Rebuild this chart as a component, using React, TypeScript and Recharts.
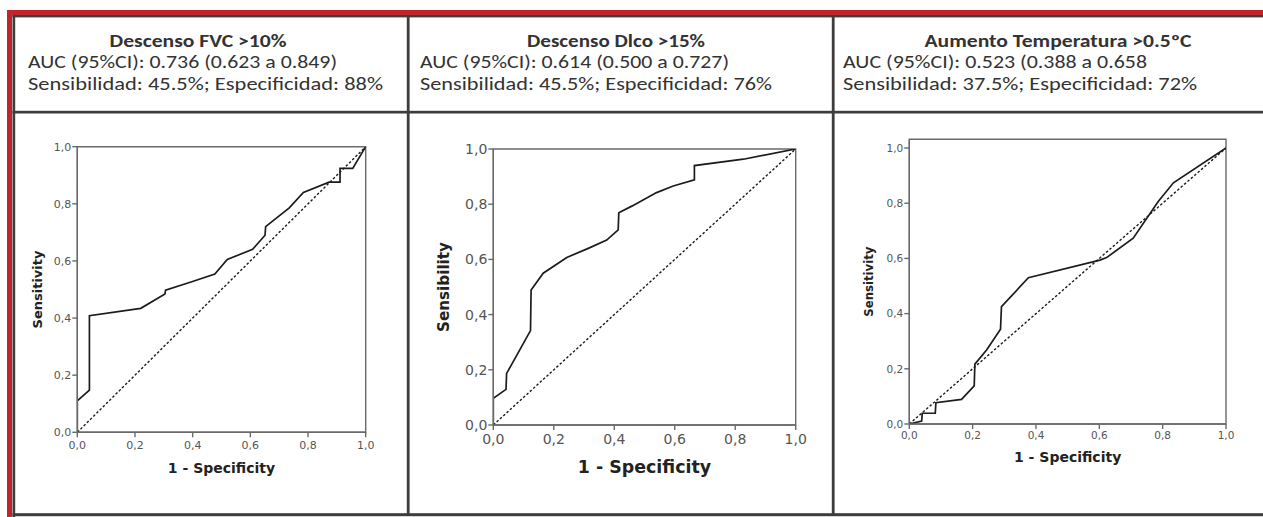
import React from 'react';
import { LineChart, Line, XAxis, YAxis, Label, ReferenceArea } from 'recharts';

// ROC values (1 - specificity, sensitivity)
const axisTicks = [0, 0.2, 0.4, 0.6, 0.8, 1];
const chanceFpr = [0, 1];
const chanceTpr = [0, 1];

const fvcFpr = [0, 0, 0.042, 0.042, 0.22, 0.304, 0.306, 0.397, 0.477, 0.52, 0.608, 0.651, 0.653, 0.735, 0.784, 0.873, 0.911, 0.911, 0.955, 1];
const fvcTpr = [0, 0.11, 0.148, 0.408, 0.434, 0.484, 0.498, 0.527, 0.554, 0.605, 0.641, 0.69, 0.72, 0.786, 0.84, 0.876, 0.876, 0.924, 0.924, 1];

const dlcoFpr = [0, 0, 0.042, 0.044, 0.123, 0.125, 0.165, 0.243, 0.314, 0.375, 0.413, 0.415, 0.458, 0.54, 0.595, 0.665, 0.665, 0.827, 1];
const dlcoTpr = [0, 0.097, 0.129, 0.187, 0.342, 0.489, 0.55, 0.607, 0.64, 0.67, 0.707, 0.769, 0.793, 0.842, 0.866, 0.888, 0.94, 0.963, 1];

const tempFpr = [0, 0.039, 0.041, 0.082, 0.084, 0.165, 0.205, 0.207, 0.244, 0.288, 0.291, 0.376, 0.602, 0.623, 0.707, 0.786, 0.834, 1];
const tempTpr = [0, 0.011, 0.039, 0.039, 0.077, 0.089, 0.138, 0.217, 0.268, 0.343, 0.425, 0.53, 0.594, 0.603, 0.673, 0.806, 0.874, 1];

const titles = ['Descenso FVC >10%', 'Descenso Dlco >15%', 'Aumento Temperatura >0.5ºC'];
const aucLines = [
  'AUC (95%CI): 0.736 (0.623 a 0.849)',
  'AUC (95%CI): 0.614 (0.500 a 0.727)',
  'AUC (95%CI): 0.523 (0.388 a 0.658',
];
const cutoffLines = [
  'Sensibilidad: 45.5%; Especificidad: 88%',
  'Sensibilidad: 45.5%; Especificidad: 76%',
  'Sensibilidad: 37.5%; Especificidad: 72%',
];
const yTitles = ['Sensitivity', 'Sensibility', 'Sensitivity'];
const xTitle = '1 - Specificity';

const zip = (xs: number[], ys: number[]) => xs.map((x, i) => ({ x, y: ys[i] }));
const chance = zip(chanceFpr, chanceTpr);
const curves = [zip(fvcFpr, fvcTpr), zip(dlcoFpr, dlcoTpr), zip(tempFpr, tempTpr)];

const fmt = (v: number) => v.toFixed(1).replace('.', ',');

// layout of each panel (page coords)
const panels = [
  { box: [16, 114, 390, 398], plot: [77.3, 146.7, 365.7, 432.3], yMax: 1, tick: 11, xm: 4, xt: 14, yt: 13, xtY: 468, ytX: 37, titleX: 198, textX: 28, w: [177, 309, 355] },
  { box: [411, 114, 420, 398], plot: [493.3, 149, 795.7, 425], yMax: 1, tick: 14, xm: 4, xt: 17.4, yt: 15.2, xtY: 467, ytX: 444, titleX: 616, textX: 420, w: [178, 309, 352] },
  { box: [836, 114, 427, 398], plot: [909.3, 139.3, 1226, 424], yMax: 1.0316, tick: 10.5, xm: 3, xt: 14, yt: 11.7, xtY: 456.7, ytX: 869, titleX: 1058, textX: 843, w: [267, 304, 354] },
];

const AXIS = '#6a6a6a';
const TICK = '#555';
const INK = '#1c1c1c';
const BORDER = '#3d3d3d';
const RED = '#c1252c';
const Y_W = 50;
const X_H = 50;

function RocPanel({ idx }: { idx: number }) {
  const p = panels[idx];
  const [bx, by, bw, bh] = p.box;
  const [L, T, R, B] = p.plot;
  const margin = {
    left: L - bx - Y_W,
    top: T - by,
    right: bx + bw - R,
    bottom: by + bh - B - X_H,
  };
  const tickStyle = { fontFamily: 'DejaVu Sans', fontSize: p.tick, fill: TICK };
  const titleFont = { fontFamily: 'DejaVu Sans', fontWeight: 700, fill: '#222' };

  return (
    <div style={{ position: 'absolute', left: bx, top: by, width: bw, height: bh }}>
      <LineChart width={bw} height={bh} margin={margin}>
        <XAxis
          type="number"
          dataKey="x"
          domain={[0, 1]}
          ticks={axisTicks}
          tickFormatter={fmt}
          tick={tickStyle}
          tickSize={5}
          tickMargin={p.xm}
          height={X_H}
          stroke={AXIS}
          strokeWidth={1.4}
          allowDataOverflow
        >
          <Label
            content={(lp: any) => {
              const vb = lp.viewBox;
              return (
                <text x={vb.x + vb.width / 2} y={p.xtY - by} textAnchor="middle" dominantBaseline="central" style={{ ...titleFont, fontSize: p.xt }}>
                  {xTitle}
                </text>
              );
            }}
          />
        </XAxis>
        <YAxis
          type="number"
          dataKey="y"
          domain={[0, p.yMax]}
          ticks={axisTicks}
          tickFormatter={fmt}
          tick={tickStyle}
          tickSize={5}
          tickMargin={1}
          width={Y_W}
          stroke={AXIS}
          strokeWidth={1.4}
          allowDataOverflow
        >
          <Label
            content={(lp: any) => {
              const vb = lp.viewBox;
              const cx = p.ytX - bx;
              const cy = vb.y + vb.height / 2;
              return (
                <text x={cx} y={cy} transform={`rotate(-90 ${cx} ${cy})`} textAnchor="middle" dominantBaseline="central" style={{ ...titleFont, fontSize: p.yt }}>
                  {yTitles[idx]}
                </text>
              );
            }}
          />
        </YAxis>
        {/* plot frame */}
        <ReferenceArea x1={0} x2={1} y1={0} y2={p.yMax} fill="none" stroke={AXIS} strokeWidth={1.4} ifOverflow="visible" />
        <Line data={chance} dataKey="y" type="linear" stroke={INK} strokeWidth={1.4} strokeDasharray="2.5 2" dot={false} isAnimationActive={false} />
        <Line data={curves[idx]} dataKey="y" type="linear" stroke={INK} strokeWidth={1.7} dot={false} isAnimationActive={false} />
      </LineChart>
    </div>
  );
}

export default function App() {
  const headFont = "Carlito, 'Open Sans', sans-serif";
  return (
    <div style={{ position: 'absolute', left: 0, top: 0, width: 1263, height: 517, background: '#fff', overflow: 'hidden' }}>
      <svg width={1263} height={517} style={{ position: 'absolute', left: 0, top: 0 }}>
        {/* red frame */}
        <rect x={7} y={10} width={5} height={507} fill={RED} />
        <rect x={7} y={10} width={1256} height={5} fill={RED} />
        {/* table borders */}
        <rect x={12.5} y={15} width={2.7} height={502} fill={BORDER} />
        <rect x={12.5} y={15} width={1251} height={2.4} fill={BORDER} />
        <rect x={12.5} y={110.8} width={1251} height={2.7} fill={BORDER} />
        <rect x={12.5} y={513.2} width={1251} height={3} fill={BORDER} />
        <rect x={406.8} y={15} width={2.8} height={500} fill={BORDER} />
        <rect x={831.8} y={15} width={2.8} height={500} fill={BORDER} />
        {panels.map((p, i) => (
          <g key={i} style={{ fontFamily: headFont, fill: '#333' }}>
            <text x={p.titleX} y={46.7} textAnchor="middle" fontSize={17} fontWeight={700} textLength={p.w[0]} lengthAdjust="spacingAndGlyphs">
              {titles[i]}
            </text>
            <text x={p.textX} y={68} fontSize={17.5} textLength={p.w[1]} lengthAdjust="spacingAndGlyphs">
              {aucLines[i]}
            </text>
            <text x={p.textX} y={90} fontSize={17.5} textLength={p.w[2]} lengthAdjust="spacingAndGlyphs">
              {cutoffLines[i]}
            </text>
          </g>
        ))}
      </svg>
      {panels.map((_, i) => (
        <RocPanel key={i} idx={i} />
      ))}
    </div>
  );
}
